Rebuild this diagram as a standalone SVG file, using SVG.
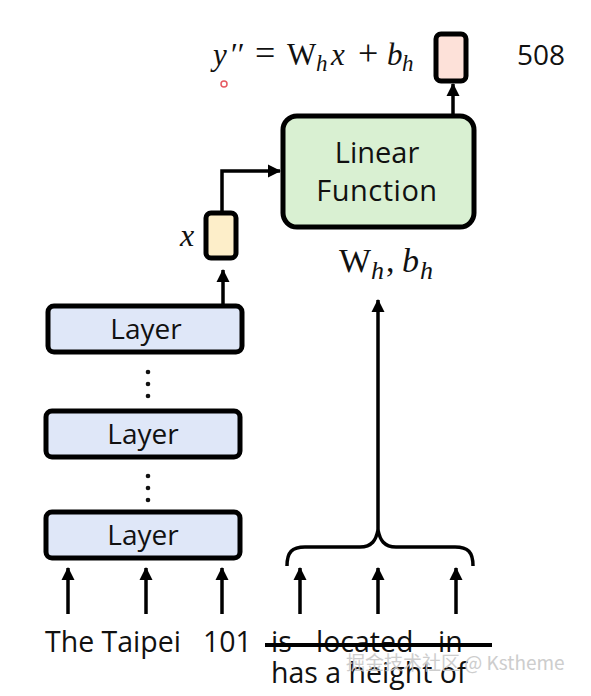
<svg xmlns="http://www.w3.org/2000/svg" width="591" height="696" viewBox="0 0 591 696">
<style>
.sans{font-family:"Open Sans","Liberation Sans",sans-serif;fill:#111}
.math{font-family:"Liberation Serif","DejaVu Serif",serif;fill:#111}
.it{font-style:italic}
.box{stroke:#000;stroke-width:5}
.conn{stroke:#000;stroke-width:3.5;fill:none}
</style>
<defs>
<marker id="ah" markerUnits="userSpaceOnUse" markerWidth="14" markerHeight="14" refX="12" refY="7" orient="auto">
<path d="M0,0.5 L13,7 L0,13.5 Z" fill="#000"/>
</marker>
</defs>
<rect width="591" height="696" fill="#fff"/>

<g id="connectors">
<line class="conn" x1="223" y1="304" x2="223" y2="270" marker-end="url(#ah)"/>
<polyline class="conn" points="222,212 222,171 280,171" marker-end="url(#ah)"/>
<line class="conn" x1="453" y1="114" x2="453" y2="84" marker-end="url(#ah)"/>
<line class="conn" x1="378" y1="530" x2="378" y2="300" marker-end="url(#ah)"/>
<path class="conn" d="M287,566 C287,552 292,547 305,547 L360,547 C372,547 376,540 378,530 C380,540 384,547 396,547 L455,547 C468,547 473,552 473,566"/>
<line class="conn" x1="68" y1="614" x2="68" y2="568" marker-end="url(#ah)"/>
<line class="conn" x1="146" y1="614" x2="146" y2="568" marker-end="url(#ah)"/>
<line class="conn" x1="222" y1="614" x2="222" y2="568" marker-end="url(#ah)"/>
<line class="conn" x1="300" y1="614" x2="300" y2="568" marker-end="url(#ah)"/>
<line class="conn" x1="378" y1="614" x2="378" y2="568" marker-end="url(#ah)"/>
<line class="conn" x1="456" y1="614" x2="456" y2="568" marker-end="url(#ah)"/>
</g>

<g id="layer-top">
<rect class="box" x="48" y="306" width="194" height="46" rx="6" fill="#dfe7f8"/>
<text class="sans" x="146" y="339" font-size="28" text-anchor="middle">Layer</text>
</g>
<g id="dots-1" fill="#111">
<circle cx="148" cy="372" r="2.3"/><circle cx="148" cy="384" r="2.3"/><circle cx="148" cy="396" r="2.3"/>
</g>
<g id="layer-mid">
<rect class="box" x="46" y="411" width="194" height="46" rx="6" fill="#dfe7f8"/>
<text class="sans" x="143" y="444" font-size="28" text-anchor="middle">Layer</text>
</g>
<g id="dots-2" fill="#111">
<circle cx="148" cy="476" r="2.3"/><circle cx="148" cy="488" r="2.3"/><circle cx="148" cy="500" r="2.3"/>
</g>
<g id="layer-bottom">
<rect class="box" x="46" y="512" width="194" height="46" rx="6" fill="#dfe7f8"/>
<text class="sans" x="143" y="545" font-size="28" text-anchor="middle">Layer</text>
</g>

<g id="x-vector">
<rect class="box" x="206" y="213" width="30" height="45" rx="5" fill="#fdeec9" stroke-width="4"/>
<text class="math it" x="187" y="246" font-size="32" text-anchor="middle">x</text>
</g>

<g id="linear-function">
<rect class="box" x="283" y="116" width="191" height="111" rx="14" fill="#d9f0d2"/>
<text class="sans" x="377" y="163" font-size="29" text-anchor="middle">Linear</text>
<text class="sans" x="377" y="201" font-size="29" text-anchor="middle" letter-spacing="0.5">Function</text>
</g>
<g id="params">
<text class="math" y="272" font-size="34"><tspan x="339">W</tspan><tspan class="it" x="371" y="279" font-size="26">h</tspan><tspan x="386" y="272">,</tspan><tspan class="it" x="402">b</tspan><tspan class="it" x="420" y="279" font-size="26">h</tspan></text>
</g>

<g id="output">
<rect class="box" x="436" y="34" width="30" height="47" rx="5" fill="#fde1d9" stroke-width="4"/>
<text class="math" y="65" font-size="31"><tspan class="it" x="213">y</tspan><tspan x="231">′′</tspan><tspan x="255" font-size="36">=</tspan><tspan x="287" font-size="31">W</tspan><tspan class="it" x="316" y="71" font-size="23">h</tspan><tspan class="it" x="331" y="65">x</tspan><tspan x="358" font-size="36">+</tspan><tspan class="it" x="387">b</tspan><tspan class="it" x="402" y="71" font-size="23">h</tspan></text>
<text class="sans" x="541" y="65" font-size="28" text-anchor="middle">508</text>
</g>

<g id="tokens">
<text class="sans" x="45" y="652" font-size="28.5">The Taipei</text>
<text class="sans" x="203" y="652" font-size="28.5">101</text>
<text class="sans" x="271" y="652" font-size="28.5">is</text>
<text class="sans" x="316" y="652" font-size="28.5">located</text>
<text class="sans" x="438" y="652" font-size="28.5">in</text>
<line x1="265" y1="645" x2="492" y2="645" stroke="#000" stroke-width="4"/>
<text class="sans" x="271" y="683" font-size="28.5">has a height of</text>
</g>

<circle cx="224" cy="84" r="3" fill="none" stroke="#e0303a" stroke-width="1.5" opacity="0.8"/>
<text x="346" y="670" font-family="'Noto Sans CJK SC',sans-serif" font-size="19" fill="#c8c8c8" opacity="0.9">掘金技术社区 @ Kstheme</text>
</svg>
